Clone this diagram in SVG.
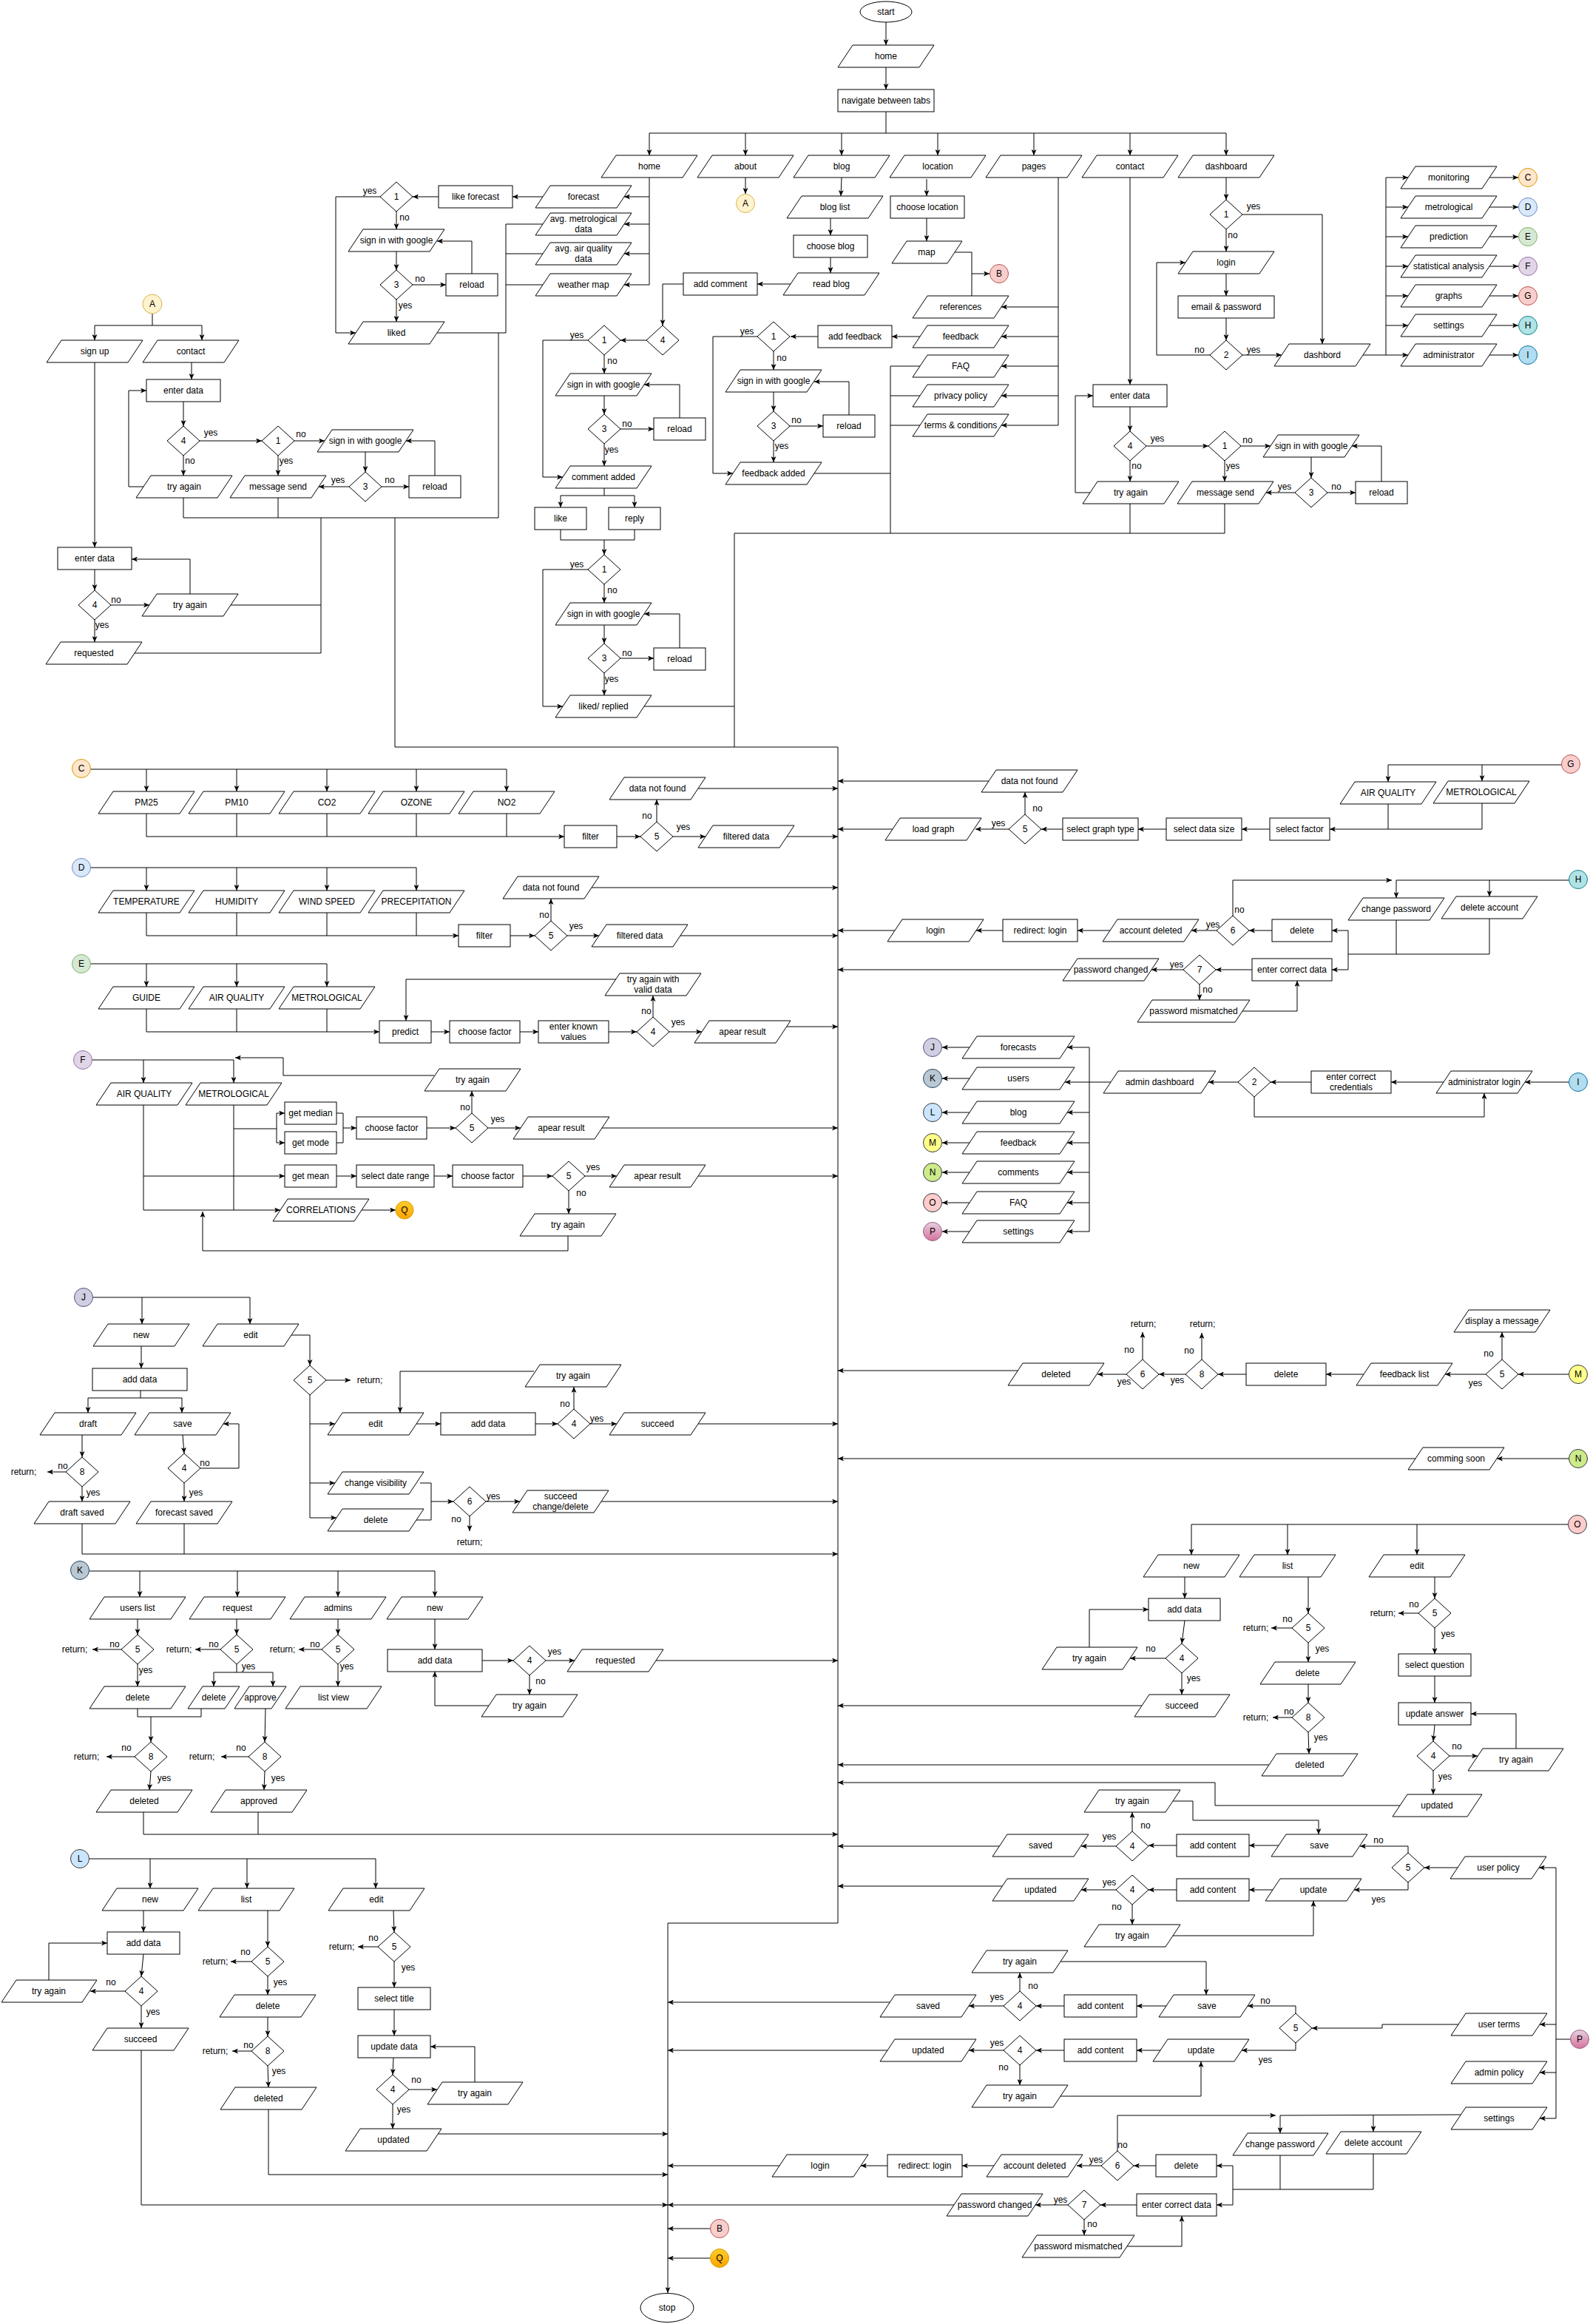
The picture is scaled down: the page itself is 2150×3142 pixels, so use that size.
<svg xmlns="http://www.w3.org/2000/svg" width="2150" height="3142" viewBox="0 0 2150 3142">
<defs>
<marker id="m" viewBox="0 0 8 7" refX="8" refY="3.5" markerWidth="8" markerHeight="7" orient="auto" markerUnits="userSpaceOnUse"><path d="M0,0L8,3.5L0,7L2,3.5z" fill="#000"/></marker>
<linearGradient id="gP" x1="0" y1="0" x2="0" y2="1"><stop offset="0" stop-color="#e6d0de"/><stop offset="1" stop-color="#d5739d"/></linearGradient>
<linearGradient id="gQ" x1="0" y1="0" x2="0" y2="1"><stop offset="0" stop-color="#ffcd28"/><stop offset="1" stop-color="#ffa500"/></linearGradient>
</defs>
<style>
.e{fill:none;stroke:#000;stroke-width:1}
.a{fill:none;stroke:#000;stroke-width:1;marker-end:url(#m)}
.nd path,.nd rect,.nd ellipse{fill:#fff;stroke:#000;stroke-width:1}
text{font-family:"Liberation Sans",Arial,Helvetica,sans-serif;font-size:12px;text-anchor:middle;dominant-baseline:central;fill:#000}
.cA{fill:#fff2cc;stroke:#d6b656}.cC{fill:#ffe6cc;stroke:#d79b00}.cD{fill:#dae8fc;stroke:#6c8ebf}.cE{fill:#d5e8d4;stroke:#82b366}.cF{fill:#e1d5e7;stroke:#9673a6}.cG{fill:#f8cecc;stroke:#b85450}.cH{fill:#b0e3e6;stroke:#0e8088}.cI{fill:#b1ddf0;stroke:#10739e}.cJ{fill:#d0cee2;stroke:#56517e}.cK{fill:#bac8d3;stroke:#23445d}.cL{fill:#cce5ff;stroke:#36393d}.cM{fill:#ffff88;stroke:#36393d}.cN{fill:#cdeb8b;stroke:#36393d}.cO{fill:#ffcccc;stroke:#36393d}.cP{fill:url(#gP);stroke:#996185}.cQ{fill:url(#gQ);stroke:#d79b00}
</style>
<rect width="2150" height="3142" fill="#fff"/>
<g id="connectors">
<path class="a" d="M1198 30V61"/><path class="a" d="M1198 91V121"/>
<path class="e" d="M1198 151V180M878 180H1658"/>
<path class="a" d="M878 180V210"/><path class="a" d="M1008 180V210"/><path class="a" d="M1138 180V210"/><path class="a" d="M1268 180V210"/><path class="a" d="M1398 180V210"/><path class="a" d="M1528 180V210"/><path class="a" d="M1658 180V210"/>
<path class="e" d="M878 240V385"/>
<path class="a" d="M878 266H844"/><path class="a" d="M878 303H844"/><path class="a" d="M878 343H844"/><path class="a" d="M878 385H844"/>
<path class="a" d="M734 266H693"/><path class="a" d="M593 266H558"/>
<path class="a" d="M514 266H454V450H481"/><path class="a" d="M536 286V310"/><path class="a" d="M536 340V365"/><path class="a" d="M558 385H603"/><path class="a" d="M638 370V326H591"/><path class="a" d="M536 405V435"/>
<path class="e" d="M591 450H684M684 303V450M734 303H684M734 343H684M734 385H684M674 450V700"/>
<path class="a" d="M1008 240V262"/>
<path class="e" d="M206 424V440M128 440H273"/>
<path class="a" d="M128 440V460"/><path class="a" d="M273 440V460"/><path class="a" d="M259 490V513"/><path class="a" d="M248 543V576"/><path class="a" d="M270 596H354"/><path class="a" d="M398 596H439"/><path class="a" d="M494 611V638"/><path class="a" d="M516 658H553"/><path class="a" d="M588 643V596H549"/><path class="a" d="M472 658H431"/><path class="a" d="M376 616V643"/><path class="a" d="M248 616V643"/><path class="a" d="M194 658H174V528H198"/>
<path class="e" d="M248 673V700M376 673V700M248 700H674M434 700V883M534 700V1010"/>
<path class="a" d="M128 490V740"/><path class="a" d="M128 770V798"/><path class="a" d="M150 818H202"/><path class="a" d="M257 803V756H178"/><path class="a" d="M128 838V868"/>
<path class="e" d="M312 818H434M182 883H434"/>
<path class="a" d="M1138 240L1137 265"/><path class="a" d="M1123 295V318"/><path class="a" d="M1123 348V369"/><path class="a" d="M1069 384H1024"/><path class="a" d="M924 384H896V440"/><path class="a" d="M874 460H839"/><path class="a" d="M795 460H734V645H761"/><path class="a" d="M817 480V505"/><path class="a" d="M817 535V560"/><path class="a" d="M839 580H884"/><path class="a" d="M919 565V520H871"/><path class="a" d="M817 600V630"/>
<path class="e" d="M817 660V670M758 670H858"/>
<path class="a" d="M758 670V686"/><path class="a" d="M858 670V686"/>
<path class="e" d="M758 716V730H858V716"/>
<path class="a" d="M817 730V750"/><path class="a" d="M795 770H734V955H761"/><path class="a" d="M817 790V815"/><path class="a" d="M817 845V870"/><path class="a" d="M839 890H884"/><path class="a" d="M919 876V830H871"/><path class="a" d="M817 910V940"/>
<path class="e" d="M871 955H993"/>
<path class="a" d="M1253 242V265"/><path class="a" d="M1253 295V326"/>
<path class="e" d="M1291 341H1314V400"/><path class="a" d="M1314 370H1338"/>
<path class="e" d="M1431 240V575"/>
<path class="a" d="M1431 415H1354"/><path class="a" d="M1431 455H1354"/><path class="a" d="M1431 495H1354"/><path class="a" d="M1431 535H1354"/><path class="a" d="M1431 575H1354"/>
<path class="a" d="M1244 455H1206"/><path class="a" d="M1106 455H1069"/><path class="a" d="M1024 455H964V640H991"/><path class="a" d="M1046 475V500"/><path class="a" d="M1046 530V556"/><path class="a" d="M1068 576H1113"/><path class="a" d="M1148 561V516H1101"/><path class="a" d="M1046 596V625"/>
<path class="e" d="M1101 640H1204M1244 495H1204M1244 535H1204M1244 575H1204M1204 495V721M993 721H1656M993 721V1010M534 1010H1133"/>
<path class="a" d="M1528 240V520"/><path class="a" d="M1528 550V583"/><path class="a" d="M1550 603H1634"/><path class="a" d="M1678 603H1718"/><path class="a" d="M1773 618V646"/><path class="a" d="M1795 666H1833"/><path class="a" d="M1868 651V603H1828"/><path class="a" d="M1751 666H1712"/><path class="a" d="M1656 623V651"/><path class="a" d="M1528 623V651"/><path class="a" d="M1474 666H1454V535H1478"/>
<path class="e" d="M1528 681V721M1656 681V721"/>
<path class="a" d="M1658 240V270"/><path class="a" d="M1680 290H1788V465"/><path class="a" d="M1658 310V340"/><path class="a" d="M1658 370V400"/><path class="a" d="M1658 430V460"/><path class="a" d="M1636 480H1564V355H1603"/><path class="a" d="M1680 480H1733"/>
<path class="e" d="M1843 480H1874M1874 240V480"/>
<path class="a" d="M1874 240H1904"/><path class="a" d="M1874 280H1904"/><path class="a" d="M1874 320H1904"/><path class="a" d="M1874 360H1904"/><path class="a" d="M1874 400H1904"/><path class="a" d="M1874 440H1904"/><path class="a" d="M1874 480H1904"/>
<path class="a" d="M2014 240H2053"/><path class="a" d="M2014 280H2053"/><path class="a" d="M2014 320H2053"/><path class="a" d="M2014 360H2053"/><path class="a" d="M2014 400H2053"/><path class="a" d="M2014 440H2053"/><path class="a" d="M2014 480H2053"/>
<path class="e" d="M1133 1010V2600H903"/><path class="a" d="M903 2600V3100"/>
<path class="e" d="M122 1040H685"/>
<path class="a" d="M198 1040V1070"/><path class="a" d="M320 1040V1070"/><path class="a" d="M442 1040V1070"/><path class="a" d="M563 1040V1070"/><path class="a" d="M685 1040V1070"/>
<path class="e" d="M198 1100V1131M320 1100V1131M442 1100V1131M563 1100V1131M685 1100V1131"/>
<path class="a" d="M198 1131H763"/><path class="a" d="M834 1131H866"/><path class="a" d="M888 1111V1081"/><path class="a" d="M910 1131H954"/><path class="a" d="M944 1066H1133"/><path class="a" d="M1064 1131H1133"/>
<path class="e" d="M122 1173H563"/>
<path class="a" d="M198 1173V1204"/><path class="a" d="M320 1173V1204"/><path class="a" d="M442 1173V1204"/><path class="a" d="M563 1173V1204"/>
<path class="e" d="M198 1234V1265M320 1234V1265M442 1234V1265M563 1234V1265"/>
<path class="a" d="M198 1265H620"/><path class="a" d="M690 1265H723"/><path class="a" d="M745 1245V1215"/><path class="a" d="M767 1265H810"/><path class="a" d="M800 1200H1133"/><path class="a" d="M920 1265H1133"/>
<path class="e" d="M122 1303H442"/>
<path class="a" d="M198 1303V1334"/><path class="a" d="M320 1303V1334"/><path class="a" d="M442 1303V1334"/>
<path class="e" d="M198 1364V1395M320 1364V1395M442 1364V1395"/>
<path class="a" d="M198 1395H513"/><path class="a" d="M583 1395H608"/><path class="a" d="M703 1395H728"/><path class="a" d="M823 1395H861"/><path class="a" d="M883 1375V1346"/><path class="a" d="M833 1324H549V1380"/><path class="a" d="M905 1395H949"/><path class="a" d="M1062 1388H1133"/>
<path class="e" d="M124 1433H316"/>
<path class="a" d="M194 1433V1464"/><path class="a" d="M316 1433V1464"/><path class="a" d="M587 1454H383V1430H318"/>
<path class="e" d="M194 1494V1636M316 1494V1636M316 1526H374M374 1505V1545"/>
<path class="a" d="M374 1505H385"/><path class="a" d="M374 1545H385"/>
<path class="e" d="M455 1505H464V1545H455"/>
<path class="a" d="M464 1525H482"/><path class="a" d="M577 1525H616"/><path class="a" d="M638 1505V1475"/><path class="a" d="M660 1525H704"/><path class="a" d="M814 1525H1133"/>
<path class="a" d="M194 1590H385"/><path class="a" d="M455 1590H482"/><path class="a" d="M587 1590H612"/><path class="a" d="M707 1590H747"/><path class="a" d="M791 1590H834"/><path class="a" d="M944 1590H1133"/><path class="a" d="M769 1610V1641"/><path class="a" d="M768 1671V1691H274V1638"/><path class="a" d="M194 1636H379"/><path class="a" d="M489 1636H535"/>
<path class="e" d="M2112 1034H1877"/>
<path class="a" d="M1877 1034V1057"/><path class="a" d="M2004 1034V1056"/>
<path class="e" d="M1877 1087V1121M2004 1086V1121"/>
<path class="a" d="M2004 1121H1798"/><path class="a" d="M1717 1121H1679"/><path class="a" d="M1577 1121H1539"/><path class="a" d="M1437 1121H1408"/><path class="a" d="M1386 1101V1071"/><path class="a" d="M1364 1121H1319"/><path class="a" d="M1337 1056H1133"/><path class="a" d="M1207 1121H1133"/>
<path class="e" d="M2122 1190H1888"/>
<path class="a" d="M1888 1190V1214"/><path class="a" d="M2014 1190V1212"/>
<path class="e" d="M1888 1244V1290M2014 1242V1290H1823M1823 1258V1311"/>
<path class="a" d="M1823 1258H1801"/><path class="a" d="M1823 1311H1801"/><path class="a" d="M1720 1258H1689"/><path class="a" d="M1667 1238V1190H1882"/><path class="a" d="M1645 1258H1611"/><path class="a" d="M1501 1258H1457"/><path class="a" d="M1356 1258H1320"/><path class="a" d="M1210 1258H1133"/><path class="a" d="M1693 1311H1644"/><path class="a" d="M1600 1311H1557"/><path class="a" d="M1447 1311H1133"/><path class="a" d="M1622 1331V1352"/><path class="a" d="M1680 1367H1754V1326"/>
<path class="a" d="M2122 1463H2062"/><path class="a" d="M1952 1463H1881"/><path class="a" d="M1773 1463H1718"/><path class="a" d="M1696 1483V1510H2007V1478"/><path class="a" d="M1674 1463H1634"/><path class="a" d="M1502 1463H1440"/>
<path class="e" d="M1473 1416V1665"/>
<path class="a" d="M1473 1416H1443"/><path class="a" d="M1473 1504H1443"/><path class="a" d="M1473 1545H1443"/><path class="a" d="M1473 1585H1443"/><path class="a" d="M1473 1626H1443"/><path class="a" d="M1473 1665H1443"/>
<path class="a" d="M1311 1416H1274"/><path class="a" d="M1311 1458H1274"/><path class="a" d="M1311 1504H1274"/><path class="a" d="M1311 1545H1274"/><path class="a" d="M1311 1585H1274"/><path class="a" d="M1311 1626H1274"/><path class="a" d="M1311 1665H1274"/>
<path class="e" d="M126 1754H338"/>
<path class="a" d="M192 1754V1790"/><path class="a" d="M338 1754V1790"/><path class="a" d="M191 1820V1850"/>
<path class="e" d="M190 1880V1890M119 1890H246"/>
<path class="a" d="M119 1890V1910"/><path class="a" d="M246 1890V1910"/><path class="a" d="M111 1940V1970"/><path class="a" d="M89 1990H64"/><path class="a" d="M111 2010V2030"/><path class="a" d="M247 1940L249 1965"/><path class="a" d="M271 1985H323V1925H302"/><path class="a" d="M249 2005V2030"/>
<path class="e" d="M249 2060V2101"/><path class="a" d="M111 2060V2101H1133"/>
<path class="a" d="M394 1805H419V1846"/><path class="a" d="M441 1866H474"/>
<path class="e" d="M419 1886V2052"/>
<path class="a" d="M419 1925H453"/><path class="a" d="M419 2005H453"/><path class="a" d="M419 2052H455"/>
<path class="a" d="M563 1925H596"/><path class="a" d="M724 1925H754"/><path class="a" d="M776 1905V1875"/><path class="a" d="M722 1854H541V1910"/><path class="a" d="M798 1925H834"/><path class="a" d="M944 1925H1133"/>
<path class="e" d="M568 2005H583V2055H563"/>
<path class="a" d="M583 2030H613"/><path class="a" d="M657 2030H703"/><path class="a" d="M813 2030H1133"/><path class="a" d="M635 2050V2070"/>
<path class="e" d="M121 2124H588"/>
<path class="a" d="M189 2124V2159"/><path class="a" d="M321 2124V2159"/><path class="a" d="M457 2124V2159"/><path class="a" d="M588 2124V2159"/>
<path class="a" d="M186 2189V2210"/><path class="a" d="M164 2230H125"/><path class="a" d="M186 2250V2280"/>
<path class="a" d="M320 2189V2210"/><path class="a" d="M298 2230H264"/>
<path class="e" d="M320 2250V2261M289 2261H369"/>
<path class="a" d="M289 2261V2280"/><path class="a" d="M369 2261V2280"/>
<path class="a" d="M457 2189V2210"/><path class="a" d="M435 2230H404"/><path class="a" d="M457 2250V2280"/>
<path class="a" d="M588 2189V2230"/><path class="a" d="M652 2245H694"/><path class="a" d="M738 2245H777"/><path class="a" d="M887 2245H1133"/><path class="a" d="M716 2265V2291"/><path class="a" d="M661 2306H588V2260"/>
<path class="e" d="M186 2310V2321H272V2310"/>
<path class="a" d="M204 2321V2355"/><path class="a" d="M182 2375H144"/><path class="a" d="M204 2395L202 2420"/>
<path class="a" d="M359 2310L358 2355"/><path class="a" d="M336 2375H299"/><path class="a" d="M358 2395L357 2420"/>
<path class="e" d="M349 2450V2480"/><path class="a" d="M194 2450V2480H1133"/>
<path class="e" d="M121 2513H508"/>
<path class="a" d="M203 2513V2553"/><path class="a" d="M334 2513V2553"/><path class="a" d="M508 2513V2553"/>
<path class="a" d="M194 2583V2612"/><path class="a" d="M194 2642L191 2672"/><path class="a" d="M169 2692H122"/><path class="a" d="M66 2677V2627H145"/><path class="a" d="M191 2712V2742"/><path class="a" d="M191 2772V2981H903"/>
<path class="a" d="M362 2583V2632"/><path class="a" d="M340 2652H312"/><path class="a" d="M362 2672V2697"/><path class="a" d="M362 2727V2753"/><path class="a" d="M340 2773H314"/><path class="a" d="M362 2793L363 2822"/><path class="a" d="M363 2852V2940H903"/>
<path class="a" d="M532 2583L533 2612"/><path class="a" d="M511 2632H484"/><path class="a" d="M533 2652V2687"/><path class="a" d="M533 2717V2752"/><path class="a" d="M532 2782L531 2805"/><path class="a" d="M553 2825H591"/><path class="a" d="M642 2815V2767H582"/><path class="a" d="M531 2845V2878"/><path class="a" d="M592 2885H903"/>
<path class="a" d="M2122 1858H2053"/><path class="a" d="M2031 1838V1801"/><path class="a" d="M2009 1858H1954"/><path class="a" d="M1844 1858H1793"/><path class="a" d="M1685 1858H1647"/><path class="a" d="M1625 1838V1802"/><path class="a" d="M1603 1858H1567"/><path class="a" d="M1545 1838V1801"/><path class="a" d="M1523 1858H1484"/><path class="a" d="M1376 1853H1133"/>
<path class="a" d="M2122 1972H2024"/><path class="a" d="M1914 1972H1133"/>
<path class="e" d="M2120 2061H1611"/>
<path class="a" d="M1611 2061V2102"/><path class="a" d="M1741 2061V2102"/><path class="a" d="M1916 2061V2102"/>
<path class="a" d="M1602 2132V2161"/><path class="a" d="M1602 2191L1598 2222"/><path class="a" d="M1576 2242H1528"/><path class="a" d="M1473 2227V2176H1553"/><path class="a" d="M1598 2262V2291"/><path class="a" d="M1544 2306H1133"/>
<path class="a" d="M1769 2132V2181"/><path class="a" d="M1747 2201H1719"/><path class="a" d="M1769 2221V2247"/><path class="a" d="M1769 2277V2302"/><path class="a" d="M1747 2322H1721"/><path class="a" d="M1769 2342L1770 2371"/><path class="a" d="M1716 2386H1133"/>
<path class="a" d="M1940 2132V2161"/><path class="a" d="M1918 2181H1891"/><path class="a" d="M1940 2201V2236"/><path class="a" d="M1940 2266V2302"/><path class="a" d="M1940 2332L1938 2354"/><path class="a" d="M1960 2374H1998"/><path class="a" d="M2050 2364V2317H1989"/><path class="a" d="M1938 2394V2426"/><path class="a" d="M1893 2441H1643V2410H1133"/>
<path class="e" d="M2124 2757H2104M2104 2525V2864"/>
<path class="a" d="M2104 2525H2081"/><path class="a" d="M2104 2737H2082"/><path class="a" d="M2104 2802H2082"/><path class="a" d="M2104 2864H2082"/>
<path class="a" d="M1971 2525H1926"/><path class="a" d="M1904 2505V2496H1839"/><path class="a" d="M1904 2545V2555H1831"/><path class="a" d="M1729 2495H1689"/><path class="a" d="M1591 2495H1553"/><path class="a" d="M1531 2476V2450"/><path class="a" d="M1586 2435H1613V2461H1783V2480"/><path class="a" d="M1509 2496H1462"/><path class="a" d="M1352 2496H1133"/>
<path class="a" d="M1721 2555H1689"/><path class="a" d="M1591 2555H1553"/><path class="a" d="M1509 2555H1462"/><path class="a" d="M1355 2550H1133"/><path class="a" d="M1531 2575V2602"/><path class="a" d="M1586 2617H1776V2570"/>
<path class="a" d="M1972 2737H1869V2742H1774"/><path class="a" d="M1752 2722V2712H1687"/><path class="a" d="M1752 2762V2772H1679"/><path class="a" d="M1577 2712H1537"/><path class="a" d="M1439 2712H1401"/><path class="a" d="M1379 2692V2667"/><path class="a" d="M1434 2652H1631V2697"/><path class="a" d="M1357 2712H1310"/><path class="a" d="M1203 2707H903"/>
<path class="a" d="M1569 2772H1537"/><path class="a" d="M1439 2772H1401"/><path class="a" d="M1357 2772H1310"/><path class="a" d="M1200 2772H903"/><path class="a" d="M1379 2792V2819"/><path class="a" d="M1434 2834H1624V2787"/>
<path class="e" d="M1975 2859L1731 2860"/>
<path class="a" d="M1731 2860V2884"/><path class="a" d="M1857 2860V2882"/>
<path class="e" d="M1731 2914V2960M1857 2912V2960H1667M1667 2928V2981"/>
<path class="a" d="M1667 2928H1645"/><path class="a" d="M1667 2981H1645"/><path class="a" d="M1563 2928H1533"/><path class="a" d="M1511 2908V2860H1725"/><path class="a" d="M1489 2928H1456"/><path class="a" d="M1344 2928H1301"/><path class="a" d="M1200 2928H1164"/><path class="a" d="M1054 2928H903"/>
<path class="a" d="M1537 2981H1488"/><path class="a" d="M1444 2981H1400"/><path class="a" d="M1290 2981H903"/><path class="a" d="M1466 3001V3022"/><path class="a" d="M1524 3037H1598V2996"/>
<path class="a" d="M960 3013H903"/><path class="a" d="M960 3053H903"/>
<g id="edge-labels">
<text x="500" y="258">yes</text><text x="547" y="294">no</text><text x="568" y="377">no</text><text x="548" y="413">yes</text>
<text x="285" y="585">yes</text><text x="407" y="587">no</text><text x="527" y="649">no</text><text x="457" y="649">yes</text><text x="387" y="623">yes</text><text x="257" y="623">no</text><text x="157" y="811">no</text><text x="138" y="845">yes</text>
<text x="780" y="453">yes</text><text x="828" y="488">no</text><text x="848" y="573">no</text><text x="827" y="608">yes</text><text x="780" y="763">yes</text><text x="828" y="798">no</text><text x="848" y="883">no</text><text x="827" y="918">yes</text>
<text x="1010" y="448">yes</text><text x="1057" y="484">no</text><text x="1077" y="568">no</text><text x="1057" y="603">yes</text>
<text x="1565" y="593">yes</text><text x="1687" y="595">no</text><text x="1807" y="658">no</text><text x="1737" y="658">yes</text><text x="1667" y="630">yes</text><text x="1537" y="630">no</text>
<text x="1695" y="279">yes</text><text x="1667" y="318">no</text><text x="1622" y="473">no</text><text x="1695" y="473">yes</text>
<text x="875" y="1103">no</text><text x="924" y="1118">yes</text><text x="736" y="1237">no</text><text x="779" y="1252">yes</text><text x="874" y="1367">no</text><text x="917" y="1382">yes</text>
<text x="629" y="1497">no</text><text x="673" y="1513">yes</text><text x="802" y="1578">yes</text><text x="786" y="1613">no</text>
<text x="1403" y="1093">no</text><text x="1350" y="1113">yes</text><text x="1676" y="1230">no</text><text x="1640" y="1250">yes</text><text x="1591" y="1304">yes</text><text x="1633" y="1338">no</text>
<text x="85" y="1982">no</text><text x="126" y="2018">yes</text><text x="277" y="1978">no</text><text x="265" y="2018">yes</text><text x="764" y="1898">no</text><text x="807" y="1918">yes</text><text x="667" y="2023">yes</text><text x="617" y="2054">no</text>
<text x="155" y="2223">no</text><text x="197" y="2258">yes</text><text x="289" y="2223">no</text><text x="336" y="2253">yes</text><text x="426" y="2223">no</text><text x="469" y="2253">yes</text><text x="750" y="2233">yes</text><text x="731" y="2273">no</text><text x="171" y="2363">no</text><text x="222" y="2404">yes</text><text x="326" y="2363">no</text><text x="376" y="2404">yes</text>
<text x="150" y="2680">no</text><text x="207" y="2720">yes</text><text x="332" y="2639">no</text><text x="379" y="2680">yes</text><text x="336" y="2765">no</text><text x="377" y="2800">yes</text><text x="505" y="2620">no</text><text x="552" y="2660">yes</text><text x="563" y="2812">no</text><text x="546" y="2852">yes</text>
<text x="2013" y="1830">no</text><text x="1995" y="1870">yes</text><text x="1608" y="1826">no</text><text x="1592" y="1866">yes</text><text x="1527" y="1825">no</text><text x="1520" y="1868">yes</text>
<text x="1556" y="2229">no</text><text x="1614" y="2269">yes</text><text x="1741" y="2189">no</text><text x="1788" y="2229">yes</text><text x="1743" y="2314">no</text><text x="1786" y="2349">yes</text><text x="1912" y="2169">no</text><text x="1958" y="2209">yes</text><text x="1970" y="2361">no</text><text x="1954" y="2402">yes</text>
<text x="1864" y="2488">no</text><text x="1864" y="2568">yes</text><text x="1549" y="2468">no</text><text x="1500" y="2483">yes</text><text x="1500" y="2545">yes</text><text x="1510" y="2578">no</text><text x="1711" y="2705">no</text><text x="1711" y="2785">yes</text><text x="1397" y="2685">no</text><text x="1348" y="2700">yes</text><text x="1348" y="2762">yes</text><text x="1357" y="2795">no</text><text x="1518" y="2900">no</text><text x="1482" y="2920">yes</text><text x="1434" y="2974">yes</text><text x="1477" y="3007">no</text>
<text x="32" y="1990">return;</text><text x="500" y="1866">return;</text><text x="635" y="2085">return;</text>
<text x="101" y="2230">return;</text><text x="242" y="2230">return;</text><text x="382" y="2230">return;</text><text x="117" y="2375">return;</text><text x="273" y="2375">return;</text>
<text x="291" y="2652">return;</text><text x="291" y="2773">return;</text><text x="462" y="2632">return;</text>
<text x="1626" y="1790">return;</text><text x="1546" y="1790">return;</text>
<text x="1698" y="2201">return;</text><text x="1698" y="2322">return;</text><text x="1870" y="2181">return;</text>
</g>
</g>
<g class="nd">
<g id="start"><ellipse cx="1198" cy="16" rx="35" ry="14"/><text x="1198" y="16">start</text></g>
<g id="home0"><path d="M1153 61h110l-20 30h-110z"/><text x="1198" y="76">home</text></g>
<g id="nav"><rect x="1133" y="121" width="130" height="30"/><text x="1198" y="136">navigate between tabs</text></g>
<g id="tab-home"><path d="M833 210h110l-20 30h-110z"/><text x="878" y="225">home</text></g>
<g id="tab-about"><path d="M963 210h110l-20 30h-110z"/><text x="1008" y="225">about</text></g>
<g id="tab-blog"><path d="M1093 210h110l-20 30h-110z"/><text x="1138" y="225">blog</text></g>
<g id="tab-location"><path d="M1223 210h110l-20 30h-110z"/><text x="1268" y="225">location</text></g>
<g id="tab-pages"><path d="M1353 210h110l-20 30h-110z"/><text x="1398" y="225">pages</text></g>
<g id="tab-contact"><path d="M1483 210h110l-20 30h-110z"/><text x="1528" y="225">contact</text></g>
<g id="tab-dashboard"><path d="M1613 210h110l-20 30h-110z"/><text x="1658" y="225">dashboard</text></g>
<g id="forecast"><path d="M744 251h110l-20 30h-110z"/><text x="789" y="266">forecast</text></g>
<g id="avgmet"><path d="M744 288h110l-20 30h-110z"/><text x="789" y="296">avg. metrological</text><text x="789" y="310">data</text></g>
<g id="avgaq"><path d="M744 328h110l-20 30h-110z"/><text x="789" y="336">avg. air quality</text><text x="789" y="350">data</text></g>
<g id="wmap"><path d="M744 370h110l-20 30h-110z"/><text x="789" y="385">weather map</text></g>
<g id="likefc"><rect x="593" y="251" width="100" height="30"/><text x="643" y="266">like forecast</text></g>
<g id="d1a"><path d="M536 246l22 20l-22 20l-22-20z"/><text x="536" y="266">1</text></g>
<g id="sig1"><path d="M491 310h110l-20 30h-110z"/><text x="536" y="325">sign in with google</text></g>
<g id="d3a"><path d="M536 365l22 20l-22 20l-22-20z"/><text x="536" y="385">3</text></g>
<g id="reload1"><rect x="603" y="370" width="70" height="30"/><text x="638" y="385">reload</text></g>
<g id="liked"><path d="M491 435h110l-20 30h-110z"/><text x="536" y="450">liked</text></g>
<g id="about-A"><circle class="cA" cx="1008" cy="275" r="12.5"/><text x="1008" y="275">A</text></g>
<g id="A"><circle class="cA" cx="206" cy="411" r="13"/><text x="206" y="411">A</text></g>
<g id="signup"><path d="M83 460h110l-20 30h-110z"/><text x="128" y="475">sign up</text></g>
<g id="contact2"><path d="M213 460h110l-20 30h-110z"/><text x="258" y="475">contact</text></g>
<g id="ed1"><rect x="198" y="513" width="100" height="30"/><text x="248" y="528">enter data</text></g>
<g id="d4a"><path d="M248 576l22 20l-22 20l-22-20z"/><text x="248" y="596">4</text></g>
<g id="d1b"><path d="M376 576l22 20l-22 20l-22-20z"/><text x="376" y="596">1</text></g>
<g id="sig2"><path d="M449 581h110l-20 30h-110z"/><text x="494" y="596">sign in with google</text></g>
<g id="d3b"><path d="M494 638l22 20l-22 20l-22-20z"/><text x="494" y="658">3</text></g>
<g id="reload2"><rect x="553" y="643" width="70" height="30"/><text x="588" y="658">reload</text></g>
<g id="msg1"><path d="M331 643h110l-20 30h-110z"/><text x="376" y="658">message send</text></g>
<g id="try1"><path d="M204 643h110l-20 30h-110z"/><text x="249" y="658">try again</text></g>
<g id="ed2"><rect x="78" y="740" width="100" height="30"/><text x="128" y="755">enter data</text></g>
<g id="d4b"><path d="M128 798l22 20l-22 20l-22-20z"/><text x="128" y="818">4</text></g>
<g id="try2"><path d="M212 803h110l-20 30h-110z"/><text x="257" y="818">try again</text></g>
<g id="req1"><path d="M82 868h110l-20 30h-110z"/><text x="127" y="883">requested</text></g>
<g id="bloglist"><path d="M1084 265h110l-20 30h-110z"/><text x="1129" y="280">blog list</text></g>
<g id="chooseblog"><rect x="1073" y="318" width="100" height="30"/><text x="1123" y="333">choose blog</text></g>
<g id="readblog"><path d="M1079 369h110l-20 30h-110z"/><text x="1124" y="384">read blog</text></g>
<g id="addcomment"><rect x="924" y="369" width="100" height="30"/><text x="974" y="384">add comment</text></g>
<g id="d4c"><path d="M896 440l22 20l-22 20l-22-20z"/><text x="896" y="460">4</text></g>
<g id="d1c"><path d="M817 440l22 20l-22 20l-22-20z"/><text x="817" y="460">1</text></g>
<g id="sig3"><path d="M771 505h110l-20 30h-110z"/><text x="816" y="520">sign in with google</text></g>
<g id="d3c"><path d="M817 560l22 20l-22 20l-22-20z"/><text x="817" y="580">3</text></g>
<g id="reload3"><rect x="884" y="565" width="70" height="30"/><text x="919" y="580">reload</text></g>
<g id="commentadded"><path d="M771 630h110l-20 30h-110z"/><text x="816" y="645">comment added</text></g>
<g id="like"><rect x="723" y="686" width="70" height="30"/><text x="758" y="701">like</text></g>
<g id="reply"><rect x="823" y="686" width="70" height="30"/><text x="858" y="701">reply</text></g>
<g id="d1d"><path d="M817 750l22 20l-22 20l-22-20z"/><text x="817" y="770">1</text></g>
<g id="sig4"><path d="M771 815h110l-20 30h-110z"/><text x="816" y="830">sign in with google</text></g>
<g id="d3d"><path d="M817 870l22 20l-22 20l-22-20z"/><text x="817" y="890">3</text></g>
<g id="reload4"><rect x="884" y="876" width="70" height="30"/><text x="919" y="891">reload</text></g>
<g id="likedreplied"><path d="M771 940h110l-20 30h-110z"/><text x="816" y="955">liked/ replied</text></g>
<g id="chooseloc"><rect x="1204" y="265" width="100" height="30"/><text x="1254" y="280">choose location</text></g>
<g id="map"><path d="M1226 326h75l-20 30h-75z"/><text x="1253" y="341">map</text></g>
<g id="B"><circle class="cG" cx="1351" cy="370" r="12.5"/><text x="1351" y="370">B</text></g>
<g id="references"><path d="M1254 400h110l-20 30h-110z"/><text x="1299" y="415">references</text></g>
<g id="feedback"><path d="M1254 440h110l-20 30h-110z"/><text x="1299" y="455">feedback</text></g>
<g id="faq"><path d="M1254 480h110l-20 30h-110z"/><text x="1299" y="495">FAQ</text></g>
<g id="privacy"><path d="M1254 520h110l-20 30h-110z"/><text x="1299" y="535">privacy policy</text></g>
<g id="terms"><path d="M1254 560h110l-20 30h-110z"/><text x="1299" y="575">terms &amp; conditions</text></g>
<g id="addfeedback"><rect x="1106" y="440" width="100" height="30"/><text x="1156" y="455">add feedback</text></g>
<g id="d1e"><path d="M1046 435l22 20l-22 20l-22-20z"/><text x="1046" y="455">1</text></g>
<g id="sig5"><path d="M1001 500h110l-20 30h-110z"/><text x="1046" y="515">sign in with google</text></g>
<g id="d3e"><path d="M1046 556l22 20l-22 20l-22-20z"/><text x="1046" y="576">3</text></g>
<g id="reload5"><rect x="1113" y="561" width="70" height="30"/><text x="1148" y="576">reload</text></g>
<g id="feedbackadded"><path d="M1001 625h110l-20 30h-110z"/><text x="1046" y="640">feedback added</text></g>
<g id="ed3"><rect x="1478" y="520" width="100" height="30"/><text x="1528" y="535">enter data</text></g>
<g id="d4d"><path d="M1528 583l22 20l-22 20l-22-20z"/><text x="1528" y="603">4</text></g>
<g id="d1f"><path d="M1656 583l22 20l-22 20l-22-20z"/><text x="1656" y="603">1</text></g>
<g id="sig6"><path d="M1728 588h110l-20 30h-110z"/><text x="1773" y="603">sign in with google</text></g>
<g id="d3f"><path d="M1773 646l22 20l-22 20l-22-20z"/><text x="1773" y="666">3</text></g>
<g id="reload6"><rect x="1833" y="651" width="70" height="30"/><text x="1868" y="666">reload</text></g>
<g id="msg2"><path d="M1612 651h110l-20 30h-110z"/><text x="1657" y="666">message send</text></g>
<g id="try3"><path d="M1484 651h110l-20 30h-110z"/><text x="1529" y="666">try again</text></g>
<g id="d1g"><path d="M1658 270l22 20l-22 20l-22-20z"/><text x="1658" y="290">1</text></g>
<g id="login1"><path d="M1613 340h110l-20 30h-110z"/><text x="1658" y="355">login</text></g>
<g id="emailpw"><rect x="1593" y="400" width="130" height="30"/><text x="1658" y="415">email &amp; password</text></g>
<g id="d2a"><path d="M1658 460l22 20l-22 20l-22-20z"/><text x="1658" y="480">2</text></g>
<g id="dashbord"><path d="M1743 465h110l-20 30h-110z"/><text x="1788" y="480">dashbord</text></g>
<g id="monitoring"><path d="M1914 225h110l-20 30h-110z"/><text x="1959" y="240">monitoring</text></g>
<g id="metrological"><path d="M1914 265h110l-20 30h-110z"/><text x="1959" y="280">metrological</text></g>
<g id="prediction"><path d="M1914 305h110l-20 30h-110z"/><text x="1959" y="320">prediction</text></g>
<g id="statistical"><path d="M1914 345h110l-20 30h-110z"/><text x="1959" y="360">statistical analysis</text></g>
<g id="graphs"><path d="M1914 385h110l-20 30h-110z"/><text x="1959" y="400">graphs</text></g>
<g id="settings"><path d="M1914 425h110l-20 30h-110z"/><text x="1959" y="440">settings</text></g>
<g id="administrator"><path d="M1914 465h110l-20 30h-110z"/><text x="1959" y="480">administrator</text></g>
<g id="C1"><circle class="cC" cx="2066" cy="240" r="12.5"/><text x="2066" y="240">C</text></g>
<g id="D1"><circle class="cD" cx="2066" cy="280" r="12.5"/><text x="2066" y="280">D</text></g>
<g id="E1"><circle class="cE" cx="2066" cy="320" r="12.5"/><text x="2066" y="320">E</text></g>
<g id="F1"><circle class="cF" cx="2066" cy="360" r="12.5"/><text x="2066" y="360">F</text></g>
<g id="G1"><circle class="cG" cx="2066" cy="400" r="12.5"/><text x="2066" y="400">G</text></g>
<g id="H1"><circle class="cH" cx="2066" cy="440" r="12.5"/><text x="2066" y="440">H</text></g>
<g id="I1"><circle class="cI" cx="2066" cy="480" r="12.5"/><text x="2066" y="480">I</text></g>
<g id="C"><circle class="cC" cx="110" cy="1039" r="12.5"/><text x="110" y="1039">C</text></g>
<g id="pm25"><path d="M153 1070h110l-20 30h-110z"/><text x="198" y="1085">PM25</text></g>
<g id="pm10"><path d="M275 1070h110l-20 30h-110z"/><text x="320" y="1085">PM10</text></g>
<g id="co2"><path d="M397 1070h110l-20 30h-110z"/><text x="442" y="1085">CO2</text></g>
<g id="ozone"><path d="M518 1070h110l-20 30h-110z"/><text x="563" y="1085">OZONE</text></g>
<g id="no2"><path d="M640 1070h110l-20 30h-110z"/><text x="685" y="1085">NO2</text></g>
<g id="filter1"><rect x="763" y="1116" width="71" height="30"/><text x="798.5" y="1131">filter</text></g>
<g id="d5a"><path d="M888 1111l22 20l-22 20l-22-20z"/><text x="888" y="1131">5</text></g>
<g id="dnf1"><path d="M844 1051h110l-20 30h-110z"/><text x="889" y="1066">data not found</text></g>
<g id="filt1"><path d="M964 1116h110l-20 30h-110z"/><text x="1009" y="1131">filtered data</text></g>
<g id="D"><circle class="cD" cx="110" cy="1173" r="12.5"/><text x="110" y="1173">D</text></g>
<g id="temperature"><path d="M153 1204h110l-20 30h-110z"/><text x="198" y="1219">TEMPERATURE</text></g>
<g id="humidity"><path d="M275 1204h110l-20 30h-110z"/><text x="320" y="1219">HUMIDITY</text></g>
<g id="windspeed"><path d="M397 1204h110l-20 30h-110z"/><text x="442" y="1219">WIND SPEED</text></g>
<g id="precepitation"><path d="M518 1204h110l-20 30h-110z"/><text x="563" y="1219">PRECEPITATION</text></g>
<g id="filter2"><rect x="620" y="1250" width="70" height="30"/><text x="655" y="1265">filter</text></g>
<g id="d5b"><path d="M745 1245l22 20l-22 20l-22-20z"/><text x="745" y="1265">5</text></g>
<g id="dnf2"><path d="M700 1185h110l-20 30h-110z"/><text x="745" y="1200">data not found</text></g>
<g id="filt2"><path d="M820 1250h110l-20 30h-110z"/><text x="865" y="1265">filtered data</text></g>
<g id="E"><circle class="cE" cx="110" cy="1303" r="12.5"/><text x="110" y="1303">E</text></g>
<g id="guide"><path d="M153 1334h110l-20 30h-110z"/><text x="198" y="1349">GUIDE</text></g>
<g id="aq1"><path d="M275 1334h110l-20 30h-110z"/><text x="320" y="1349">AIR QUALITY</text></g>
<g id="met1"><path d="M397 1334h110l-20 30h-110z"/><text x="442" y="1349">METROLOGICAL</text></g>
<g id="predict"><rect x="513" y="1380" width="70" height="30"/><text x="548" y="1395">predict</text></g>
<g id="cf1"><rect x="608" y="1380" width="95" height="30"/><text x="655.5" y="1395">choose factor</text></g>
<g id="ekv"><rect x="728" y="1380" width="95" height="30"/><text x="775.5" y="1388">enter known</text><text x="775.5" y="1402">values</text></g>
<g id="d4e"><path d="M883 1375l22 20l-22 20l-22-20z"/><text x="883" y="1395">4</text></g>
<g id="tav"><path d="M838 1316h110l-20 30h-110z"/><text x="883" y="1324">try again with</text><text x="883" y="1338">valid data</text></g>
<g id="ar1"><path d="M959 1380h110l-20 30h-110z"/><text x="1004" y="1395">apear result</text></g>
<g id="F"><circle class="cF" cx="112" cy="1433" r="12.5"/><text x="112" y="1433">F</text></g>
<g id="aq2"><path d="M150 1464h110l-20 30h-110z"/><text x="195" y="1479">AIR QUALITY</text></g>
<g id="met2"><path d="M271 1464h110l-20 30h-110z"/><text x="316" y="1479">METROLOGICAL</text></g>
<g id="try4"><path d="M594 1445h110l-20 30h-110z"/><text x="639" y="1460">try again</text></g>
<g id="median"><rect x="385" y="1490" width="70" height="30"/><text x="420" y="1505">get median</text></g>
<g id="mode"><rect x="385" y="1530" width="70" height="30"/><text x="420" y="1545">get mode</text></g>
<g id="cf2"><rect x="482" y="1510" width="95" height="30"/><text x="529.5" y="1525">choose factor</text></g>
<g id="d5c"><path d="M638 1505l22 20l-22 20l-22-20z"/><text x="638" y="1525">5</text></g>
<g id="ar2"><path d="M714 1510h110l-20 30h-110z"/><text x="759" y="1525">apear result</text></g>
<g id="mean"><rect x="385" y="1575" width="70" height="30"/><text x="420" y="1590">get mean</text></g>
<g id="sdr"><rect x="482" y="1575" width="105" height="30"/><text x="534.5" y="1590">select date range</text></g>
<g id="cf3"><rect x="612" y="1575" width="95" height="30"/><text x="659.5" y="1590">choose factor</text></g>
<g id="d5d"><path d="M769 1570l22 20l-22 20l-22-20z"/><text x="769" y="1590">5</text></g>
<g id="ar3"><path d="M844 1575h110l-20 30h-110z"/><text x="889" y="1590">apear result</text></g>
<g id="try5"><path d="M723 1641h110l-20 30h-110z"/><text x="768" y="1656">try again</text></g>
<g id="corr"><path d="M389 1621h110l-20 30h-110z"/><text x="434" y="1636">CORRELATIONS</text></g>
<g id="Q1"><circle class="cQ" cx="547" cy="1636" r="12"/><text x="547" y="1636">Q</text></g>
<g id="G"><circle class="cG" cx="2124" cy="1033" r="12.5"/><text x="2124" y="1033">G</text></g>
<g id="aq3"><path d="M1832 1057h110l-20 30h-110z"/><text x="1877" y="1072">AIR QUALITY</text></g>
<g id="met3"><path d="M1958 1056h110l-20 30h-110z"/><text x="2003" y="1071">METROLOGICAL</text></g>
<g id="sf"><rect x="1717" y="1106" width="81" height="30"/><text x="1757.5" y="1121">select factor</text></g>
<g id="sds"><rect x="1577" y="1106" width="102" height="30"/><text x="1628" y="1121">select data size</text></g>
<g id="sgt"><rect x="1437" y="1106" width="102" height="30"/><text x="1488" y="1121">select graph type</text></g>
<g id="d5e"><path d="M1386 1101l22 20l-22 20l-22-20z"/><text x="1386" y="1121">5</text></g>
<g id="dnf3"><path d="M1347 1041h110l-20 30h-110z"/><text x="1392" y="1056">data not found</text></g>
<g id="lg"><path d="M1217 1106h110l-20 30h-110z"/><text x="1262" y="1121">load graph</text></g>
<g id="H"><circle class="cH" cx="2134" cy="1189" r="12.5"/><text x="2134" y="1189">H</text></g>
<g id="cp1"><path d="M1843 1214h110l-20 30h-110z"/><text x="1888" y="1229">change password</text></g>
<g id="da1"><path d="M1969 1212h110l-20 30h-110z"/><text x="2014" y="1227">delete account</text></g>
<g id="del1"><rect x="1720" y="1243" width="81" height="30"/><text x="1760.5" y="1258">delete</text></g>
<g id="ecd1"><rect x="1693" y="1296" width="108" height="30"/><text x="1747" y="1311">enter correct data</text></g>
<g id="d6a"><path d="M1667 1238l22 20l-22 20l-22-20z"/><text x="1667" y="1258">6</text></g>
<g id="ad1"><path d="M1511 1243h110l-20 30h-110z"/><text x="1556" y="1258">account deleted</text></g>
<g id="rl1"><rect x="1356" y="1243" width="101" height="30"/><text x="1406.5" y="1258">redirect: login</text></g>
<g id="login2"><path d="M1220 1243h110l-20 30h-110z"/><text x="1265" y="1258">login</text></g>
<g id="d7a"><path d="M1622 1291l22 20l-22 20l-22-20z"/><text x="1622" y="1311">7</text></g>
<g id="pc1"><path d="M1457 1296h110l-20 30h-110z"/><text x="1502" y="1311">password changed</text></g>
<g id="pm1"><path d="M1558 1352h132l-20 30h-132z"/><text x="1614" y="1367">password mismatched</text></g>
<g id="I"><circle class="cI" cx="2134" cy="1463" r="12.5"/><text x="2134" y="1463">I</text></g>
<g id="al"><path d="M1962 1448h110l-20 30h-110z"/><text x="2007" y="1463">administrator login</text></g>
<g id="ecc"><rect x="1773" y="1448" width="108" height="30"/><text x="1827" y="1456">enter correct</text><text x="1827" y="1470">credentials</text></g>
<g id="d2b"><path d="M1696 1443l22 20l-22 20l-22-20z"/><text x="1696" y="1463">2</text></g>
<g id="adash"><path d="M1512 1448h132l-20 30h-132z"/><text x="1568" y="1463">admin dashboard</text></g>
<g id="forecasts"><path d="M1321 1401h132l-20 30h-132z"/><text x="1377" y="1416">forecasts</text></g>
<g id="users"><path d="M1321 1443h132l-20 30h-132z"/><text x="1377" y="1458">users</text></g>
<g id="blog2"><path d="M1321 1489h132l-20 30h-132z"/><text x="1377" y="1504">blog</text></g>
<g id="feedback2"><path d="M1321 1530h132l-20 30h-132z"/><text x="1377" y="1545">feedback</text></g>
<g id="comments"><path d="M1321 1570h132l-20 30h-132z"/><text x="1377" y="1585">comments</text></g>
<g id="faq2"><path d="M1321 1611h132l-20 30h-132z"/><text x="1377" y="1626">FAQ</text></g>
<g id="settings2"><path d="M1321 1650h132l-20 30h-132z"/><text x="1377" y="1665">settings</text></g>
<g id="J1"><circle class="cJ" cx="1261" cy="1416" r="12.5"/><text x="1261" y="1416">J</text></g>
<g id="K1"><circle class="cK" cx="1261" cy="1458" r="12.5"/><text x="1261" y="1458">K</text></g>
<g id="L1"><circle class="cL" cx="1261" cy="1504" r="12.5"/><text x="1261" y="1504">L</text></g>
<g id="M1"><circle class="cM" cx="1261" cy="1545" r="12.5"/><text x="1261" y="1545">M</text></g>
<g id="N1"><circle class="cN" cx="1261" cy="1585" r="12.5"/><text x="1261" y="1585">N</text></g>
<g id="O1"><circle class="cO" cx="1261" cy="1626" r="12.5"/><text x="1261" y="1626">O</text></g>
<g id="P1"><circle class="cP" cx="1261" cy="1665" r="12.5"/><text x="1261" y="1665">P</text></g>
<g id="J"><circle class="cJ" cx="113" cy="1754" r="12.5"/><text x="113" y="1754">J</text></g>
<g id="new1"><path d="M146 1790h110l-20 30h-110z"/><text x="191" y="1805">new</text></g>
<g id="edit1"><path d="M294 1790h110l-20 30h-110z"/><text x="339" y="1805">edit</text></g>
<g id="adddata1"><rect x="125" y="1850" width="128" height="30"/><text x="189" y="1865">add data</text></g>
<g id="draft"><path d="M74 1910h110l-20 30h-110z"/><text x="119" y="1925">draft</text></g>
<g id="save1"><path d="M202 1910h110l-20 30h-110z"/><text x="247" y="1925">save</text></g>
<g id="d8a"><path d="M111 1970l22 20l-22 20l-22-20z"/><text x="111" y="1990">8</text></g>
<g id="drafts"><path d="M66 2030h110l-20 30h-110z"/><text x="111" y="2045">draft saved</text></g>
<g id="d4f"><path d="M249 1965l22 20l-22 20l-22-20z"/><text x="249" y="1985">4</text></g>
<g id="fcs"><path d="M204 2030h110l-20 30h-110z"/><text x="249" y="2045">forecast saved</text></g>
<g id="d5f"><path d="M419 1846l22 20l-22 20l-22-20z"/><text x="419" y="1866">5</text></g>
<g id="edit2"><path d="M463 1910h110l-20 30h-110z"/><text x="508" y="1925">edit</text></g>
<g id="adddata2"><rect x="596" y="1910" width="128" height="30"/><text x="660" y="1925">add data</text></g>
<g id="d4g"><path d="M776 1905l22 20l-22 20l-22-20z"/><text x="776" y="1925">4</text></g>
<g id="try6"><path d="M730 1845h110l-20 30h-110z"/><text x="775" y="1860">try again</text></g>
<g id="succ1"><path d="M844 1910h110l-20 30h-110z"/><text x="889" y="1925">succeed</text></g>
<g id="cv"><path d="M463 1990h110l-20 30h-110z"/><text x="508" y="2005">change visibility</text></g>
<g id="del2"><path d="M463 2040h110l-20 30h-110z"/><text x="508" y="2055">delete</text></g>
<g id="d6b"><path d="M635 2010l22 20l-22 20l-22-20z"/><text x="635" y="2030">6</text></g>
<g id="scd"><path d="M713 2015h110l-20 30h-110z"/><text x="758" y="2023">succeed</text><text x="758" y="2037">change/delete</text></g>
<g id="K"><circle class="cK" cx="108" cy="2123" r="12.5"/><text x="108" y="2123">K</text></g>
<g id="ul"><path d="M141 2159h110l-20 30h-110z"/><text x="186" y="2174">users list</text></g>
<g id="reqs"><path d="M276 2159h110l-20 30h-110z"/><text x="321" y="2174">request</text></g>
<g id="admins"><path d="M412 2159h110l-20 30h-110z"/><text x="457" y="2174">admins</text></g>
<g id="new2"><path d="M543 2159h110l-20 30h-110z"/><text x="588" y="2174">new</text></g>
<g id="d5g"><path d="M186 2210l22 20l-22 20l-22-20z"/><text x="186" y="2230">5</text></g>
<g id="del3"><path d="M141 2280h110l-20 30h-110z"/><text x="186" y="2295">delete</text></g>
<g id="d5h"><path d="M320 2210l22 20l-22 20l-22-20z"/><text x="320" y="2230">5</text></g>
<g id="del4"><path d="M274 2280h50l-20 30h-50z"/><text x="289" y="2295">delete</text></g>
<g id="appr"><path d="M337 2280h50l-20 30h-50z"/><text x="352" y="2295">approve</text></g>
<g id="d5i"><path d="M457 2210l22 20l-22 20l-22-20z"/><text x="457" y="2230">5</text></g>
<g id="lv"><path d="M406 2280h110l-20 30h-110z"/><text x="451" y="2295">list view</text></g>
<g id="adddata3"><rect x="524" y="2230" width="128" height="30"/><text x="588" y="2245">add data</text></g>
<g id="d4h"><path d="M716 2225l22 20l-22 20l-22-20z"/><text x="716" y="2245">4</text></g>
<g id="req2"><path d="M787 2230h110l-20 30h-110z"/><text x="832" y="2245">requested</text></g>
<g id="try7"><path d="M671 2291h110l-20 30h-110z"/><text x="716" y="2306">try again</text></g>
<g id="d8b"><path d="M204 2355l22 20l-22 20l-22-20z"/><text x="204" y="2375">8</text></g>
<g id="deleted1"><path d="M150 2420h110l-20 30h-110z"/><text x="195" y="2435">deleted</text></g>
<g id="d8c"><path d="M358 2355l22 20l-22 20l-22-20z"/><text x="358" y="2375">8</text></g>
<g id="approved"><path d="M305 2420h110l-20 30h-110z"/><text x="350" y="2435">approved</text></g>
<g id="L"><circle class="cL" cx="108" cy="2513" r="12.5"/><text x="108" y="2513">L</text></g>
<g id="new3"><path d="M158 2553h110l-20 30h-110z"/><text x="203" y="2568">new</text></g>
<g id="list1"><path d="M288 2553h110l-20 30h-110z"/><text x="333" y="2568">list</text></g>
<g id="edit3"><path d="M464 2553h110l-20 30h-110z"/><text x="509" y="2568">edit</text></g>
<g id="adddata4"><rect x="145" y="2612" width="98" height="30"/><text x="194" y="2627">add data</text></g>
<g id="d4i"><path d="M191 2672l22 20l-22 20l-22-20z"/><text x="191" y="2692">4</text></g>
<g id="try8"><path d="M22 2677h109l-20 30h-109z"/><text x="66" y="2692">try again</text></g>
<g id="succ2"><path d="M145 2742h110l-20 30h-110z"/><text x="190" y="2757">succeed</text></g>
<g id="d5j"><path d="M362 2632l22 20l-22 20l-22-20z"/><text x="362" y="2652">5</text></g>
<g id="del5"><path d="M317 2697h110l-20 30h-110z"/><text x="362" y="2712">delete</text></g>
<g id="d8d"><path d="M362 2753l22 20l-22 20l-22-20z"/><text x="362" y="2773">8</text></g>
<g id="deleted2"><path d="M318 2822h110l-20 30h-110z"/><text x="363" y="2837">deleted</text></g>
<g id="d5k"><path d="M533 2612l22 20l-22 20l-22-20z"/><text x="533" y="2632">5</text></g>
<g id="st"><rect x="484" y="2687" width="98" height="30"/><text x="533" y="2702">select title</text></g>
<g id="ud"><rect x="484" y="2752" width="98" height="30"/><text x="533" y="2767">update data</text></g>
<g id="d4j"><path d="M531 2805l22 20l-22 20l-22-20z"/><text x="531" y="2825">4</text></g>
<g id="try9"><path d="M598 2815h109l-20 30h-109z"/><text x="642" y="2830">try again</text></g>
<g id="updated1"><path d="M487 2878h110l-20 30h-110z"/><text x="532" y="2893">updated</text></g>
<g id="M"><circle class="cM" cx="2134" cy="1858" r="12.5"/><text x="2134" y="1858">M</text></g>
<g id="d5l"><path d="M2031 1838l22 20l-22 20l-22-20z"/><text x="2031" y="1858">5</text></g>
<g id="dam"><path d="M1986 1771h110l-20 30h-110z"/><text x="2031" y="1786">display a message</text></g>
<g id="fl"><path d="M1854 1843h110l-20 30h-110z"/><text x="1899" y="1858">feedback list</text></g>
<g id="del6"><rect x="1685" y="1843" width="108" height="30"/><text x="1739" y="1858">delete</text></g>
<g id="d8e"><path d="M1625 1838l22 20l-22 20l-22-20z"/><text x="1625" y="1858">8</text></g>
<g id="d6c"><path d="M1545 1838l22 20l-22 20l-22-20z"/><text x="1545" y="1858">6</text></g>
<g id="deleted3"><path d="M1383 1843h110l-20 30h-110z"/><text x="1428" y="1858">deleted</text></g>
<g id="N"><circle class="cN" cx="2134" cy="1972" r="12.5"/><text x="2134" y="1972">N</text></g>
<g id="cs"><path d="M1924 1957h110l-20 30h-110z"/><text x="1969" y="1972">comming soon</text></g>
<g id="O"><circle class="cO" cx="2133" cy="2061" r="12.5"/><text x="2133" y="2061">O</text></g>
<g id="new4"><path d="M1566 2102h110l-20 30h-110z"/><text x="1611" y="2117">new</text></g>
<g id="list2"><path d="M1696 2102h110l-20 30h-110z"/><text x="1741" y="2117">list</text></g>
<g id="edit4"><path d="M1871 2102h110l-20 30h-110z"/><text x="1916" y="2117">edit</text></g>
<g id="adddata5"><rect x="1553" y="2161" width="97" height="30"/><text x="1601.5" y="2176">add data</text></g>
<g id="d4k"><path d="M1598 2222l22 20l-22 20l-22-20z"/><text x="1598" y="2242">4</text></g>
<g id="try10"><path d="M1429 2227h109l-20 30h-109z"/><text x="1473" y="2242">try again</text></g>
<g id="succ3"><path d="M1554 2291h109l-20 30h-109z"/><text x="1598" y="2306">succeed</text></g>
<g id="d5m"><path d="M1769 2181l22 20l-22 20l-22-20z"/><text x="1769" y="2201">5</text></g>
<g id="del7"><path d="M1724 2247h109l-20 30h-109z"/><text x="1768" y="2262">delete</text></g>
<g id="d8f"><path d="M1769 2302l22 20l-22 20l-22-20z"/><text x="1769" y="2322">8</text></g>
<g id="deleted4"><path d="M1726 2371h110l-20 30h-110z"/><text x="1771" y="2386">deleted</text></g>
<g id="d5n"><path d="M1940 2161l22 20l-22 20l-22-20z"/><text x="1940" y="2181">5</text></g>
<g id="sq"><rect x="1891" y="2236" width="98" height="30"/><text x="1940" y="2251">select question</text></g>
<g id="ua"><rect x="1891" y="2302" width="98" height="30"/><text x="1940" y="2317">update answer</text></g>
<g id="d4l"><path d="M1938 2354l22 20l-22 20l-22-20z"/><text x="1938" y="2374">4</text></g>
<g id="try11"><path d="M2005 2364h109l-20 30h-109z"/><text x="2050" y="2379">try again</text></g>
<g id="updated2"><path d="M1903 2426h101l-20 30h-101z"/><text x="1943" y="2441">updated</text></g>
<g id="P"><circle class="cP" cx="2136" cy="2757" r="12.5"/><text x="2136" y="2757">P</text></g>
<g id="up"><path d="M1981 2510h110l-20 30h-110z"/><text x="2026" y="2525">user policy</text></g>
<g id="ut"><path d="M1982 2722h110l-20 30h-110z"/><text x="2027" y="2737">user terms</text></g>
<g id="ap"><path d="M1982 2787h110l-20 30h-110z"/><text x="2027" y="2802">admin policy</text></g>
<g id="set2"><path d="M1982 2849h110l-20 30h-110z"/><text x="2027" y="2864">settings</text></g>
<g id="d5o"><path d="M1904 2505l22 20l-22 20l-22-20z"/><text x="1904" y="2525">5</text></g>
<g id="save2"><path d="M1739 2480h110l-20 30h-110z"/><text x="1784" y="2495">save</text></g>
<g id="update1"><path d="M1731 2540h110l-20 30h-110z"/><text x="1776" y="2555">update</text></g>
<g id="ac1"><rect x="1591" y="2480" width="98" height="30"/><text x="1640" y="2495">add content</text></g>
<g id="d4m"><path d="M1531 2476l22 20l-22 20l-22-20z"/><text x="1531" y="2496">4</text></g>
<g id="try12"><path d="M1486 2420h110l-20 30h-110z"/><text x="1531" y="2435">try again</text></g>
<g id="saved1"><path d="M1362 2480h110l-20 30h-110z"/><text x="1407" y="2495">saved</text></g>
<g id="ac2"><rect x="1591" y="2540" width="98" height="30"/><text x="1640" y="2555">add content</text></g>
<g id="d4n"><path d="M1531 2535l22 20l-22 20l-22-20z"/><text x="1531" y="2555">4</text></g>
<g id="updated3"><path d="M1362 2540h110l-20 30h-110z"/><text x="1407" y="2555">updated</text></g>
<g id="try13"><path d="M1486 2602h110l-20 30h-110z"/><text x="1531" y="2617">try again</text></g>
<g id="d5p"><path d="M1752 2722l22 20l-22 20l-22-20z"/><text x="1752" y="2742">5</text></g>
<g id="save3"><path d="M1587 2697h110l-20 30h-110z"/><text x="1632" y="2712">save</text></g>
<g id="update2"><path d="M1579 2757h110l-20 30h-110z"/><text x="1624" y="2772">update</text></g>
<g id="ac3"><rect x="1439" y="2697" width="98" height="30"/><text x="1488" y="2712">add content</text></g>
<g id="d4o"><path d="M1379 2692l22 20l-22 20l-22-20z"/><text x="1379" y="2712">4</text></g>
<g id="try14"><path d="M1334 2637h110l-20 30h-110z"/><text x="1379" y="2652">try again</text></g>
<g id="saved2"><path d="M1210 2697h110l-20 30h-110z"/><text x="1255" y="2712">saved</text></g>
<g id="ac4"><rect x="1439" y="2757" width="98" height="30"/><text x="1488" y="2772">add content</text></g>
<g id="d4p"><path d="M1379 2752l22 20l-22 20l-22-20z"/><text x="1379" y="2772">4</text></g>
<g id="updated4"><path d="M1210 2757h110l-20 30h-110z"/><text x="1255" y="2772">updated</text></g>
<g id="try15"><path d="M1334 2819h110l-20 30h-110z"/><text x="1379" y="2834">try again</text></g>
<g id="cp2"><path d="M1687 2884h109l-20 30h-109z"/><text x="1731" y="2899">change password</text></g>
<g id="da2"><path d="M1813 2882h109l-20 30h-109z"/><text x="1857" y="2897">delete account</text></g>
<g id="del8"><rect x="1563" y="2913" width="82" height="30"/><text x="1604" y="2928">delete</text></g>
<g id="ecd2"><rect x="1537" y="2966" width="108" height="30"/><text x="1591" y="2981">enter correct data</text></g>
<g id="d6d"><path d="M1511 2908l22 20l-22 20l-22-20z"/><text x="1511" y="2928">6</text></g>
<g id="ad2"><path d="M1354 2913h110l-20 30h-110z"/><text x="1399" y="2928">account deleted</text></g>
<g id="rl2"><rect x="1200" y="2913" width="101" height="30"/><text x="1250.5" y="2928">redirect: login</text></g>
<g id="login3"><path d="M1064 2913h110l-20 30h-110z"/><text x="1109" y="2928">login</text></g>
<g id="d7b"><path d="M1466 2961l22 20l-22 20l-22-20z"/><text x="1466" y="2981">7</text></g>
<g id="pc2"><path d="M1300 2966h110l-20 30h-110z"/><text x="1345" y="2981">password changed</text></g>
<g id="pm2"><path d="M1402 3022h132l-20 30h-132z"/><text x="1458" y="3037">password mismatched</text></g>
<g id="B2"><circle class="cG" cx="973" cy="3013" r="12.5"/><text x="973" y="3013">B</text></g>
<g id="Q2"><circle class="cQ" cx="973" cy="3053" r="12.5"/><text x="973" y="3053">Q</text></g>
<g id="stop"><ellipse cx="902" cy="3120" rx="36" ry="19.5"/><text x="902" y="3120">stop</text></g>
</g>
</svg>
